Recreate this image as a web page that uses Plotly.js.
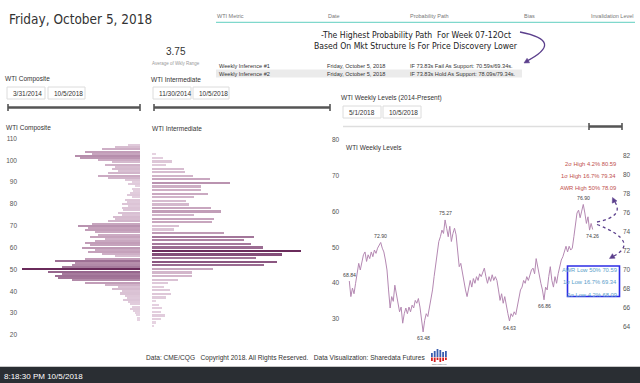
<!DOCTYPE html>
<html><head><meta charset="utf-8">
<script src="https://cdn.plot.ly/plotly-3.0.1.min.js"></script>
<style>html,body{margin:0;padding:0;background:#fff}#chart{width:640px;height:383px}</style>
</head><body><div id="chart"></div>
<script>
// ---------- DATA ----------
// WTI Composite: price level (USD) and frequency (weeks at level)
const compositePrices = [107,106,105,104,103,102,101,100,99,98,97,96,95,94,93,92,91,90,89,88,87,86,85,84,83,82,81,80,79,78,77,76,75,74,73,72,71,70,69,68,67,66,65,64,63,62,61,60,59,58,57,56,55,54,53,52,51,50,49,48,47,46,45,44,43,42,41,40,39,38,37,36,35,34,33,32,31,30,29,28,27];
const compositeFreq   = [12,25,38,55,48,65,60,42,28,35,25,28,22,32,42,32,15,8,12,5,8,7,10,13,8,15,13,18,12,18,17,22,18,27,25,32,48,62,52,55,45,42,50,35,45,55,50,58,45,52,38,25,55,85,65,68,78,118,92,78,85,82,68,55,35,22,28,18,20,15,13,17,12,10,8,10,7,5,4,3,3];
// WTI Intermediate: price level and frequency
const interPrices = [76,75,74,73,72,71,70,69,68,67,66,65,64,63,62,61,60,59,58,57,56,55,54,53,52,51,50,49,48,47,46,45,44,43,42,41,40,39,38,37,36,35,34,33,32,31,30,29,28];
const interFreq   = [4,11,20,14,32,33,41,58,78,49,49,56,42,34,37,59,69,42,62,60,27,22,72,102,92,99,111,149,130,104,125,112,61,40,40,26,16,12,18,19,14,4,7,10,9,13,9,4,2];
// WTI Weekly Levels (May 1 2018 - Oct 5 2018), sampled closes
const weeklyLevels = [68.84,67.2,68.1,67.5,68.6,69.6,70.7,70.0,71.05,71.6,71.9,70.9,71.6,71.2,71.9,71.4,72.1,71.75,72.3,72.6,72.90,72.3,71.9,71.05,70.0,67.9,66.0,67.2,66.7,68.4,67.4,66.8,65.6,66.1,64.4,65.4,66.0,65.4,66.1,65.6,66.3,66.0,66.8,66.5,67.0,66.1,64.4,63.48,64.7,65.4,65.1,66.0,66.8,67.9,69.3,70.7,72.1,73.0,73.5,74.2,73.85,75.27,74.4,73.5,74.6,73.0,73.85,74.4,73.7,72.3,70.35,70.7,69.6,68.9,67.9,67.2,67.9,68.9,68.2,69.1,68.6,69.3,68.9,69.6,69.3,69.8,70.2,69.3,68.6,69.3,68.8,69.5,68.9,69.3,68.9,67.9,66.8,67.5,66.5,67.2,66.1,65.4,64.63,65.4,65.1,65.6,65.3,66.1,67.2,67.9,68.2,68.9,68.6,69.3,68.9,69.6,70.0,70.2,69.6,71.2,70.35,69.1,68.6,67.9,66.86,68.2,67.9,69.3,70.35,68.9,68.2,69.3,68.6,69.6,70.35,71.05,71.4,72.1,72.5,71.9,72.5,72.1,72.3,73.5,74.6,76.0,76.3,75.5,76.2,76.90,76.0,74.9,75.6,74.2,74.9,74.26];
// labelled highs/lows on the weekly chart, and whether the label sits above (1) or below (-1)
const weeklyMarked = [68.84,72.90,75.27,63.48,64.63,66.86,76.90,74.26];
const weeklyMarkedSide = [1,1,1,-1,-1,-1,1,-1];
const compositeTicks = [20,30,40,50,60,70,80,90,100,110];
const interTicks = [30,40,50,60,70,80];
const weeklyTicks = [64,66,68,70,72,74,76,78,80,82];
const highLevels = ["2σ High 4.2% 80.59","1σ High 16.7% 79.34","AWR High 50% 78.09"];
const lowLevels  = ["AWR Low 50% 70.59","1σ Low 16.7% 69.34","2σ Low 4.2% 68.09"];
const tableHeader = ["WTI Metric","Date","Probability Path","Bias","Invalidation Level"];
const tableRows = [
  ["Weekly Inference #1","Friday, October 5, 2018","IF 73.83s Fail As Support: 70.59s/69.34s."],
  ["Weekly Inference #2","Friday, October 5, 2018","IF 73.83s Hold As Support: 78.09s/79.34s."]
];

// ---------- HELPERS ----------
const W=640,H=383;
const px=x=>x/W, py=y=>1-y/H;
const SANS="Liberation Sans, Arial, sans-serif";
const ann=[], shp=[];
function txt(x,y,text,size,color,anchor,family){
  ann.push({xref:'paper',yref:'paper',x:px(x),y:py(y),text:text,showarrow:false,
    xanchor:anchor||'left',yanchor:'middle',borderpad:0,
    font:{size:size,color:color||'#333',family:family||SANS}});
}
function rect(x0,y0,x1,y1,lc,fill,lw){
  shp.push({type:'rect',xref:'paper',yref:'paper',x0:px(x0),x1:px(x1),y0:py(y1),y1:py(y0),
    line:{color:lc||'rgba(0,0,0,0)',width:lw===undefined?1:lw},fillcolor:fill||'rgba(0,0,0,0)',layer:'below'});
}
function line(x0,y0,x1,y1,c,w,dash){
  shp.push({type:'line',xref:'paper',yref:'paper',x0:px(x0),x1:px(x1),y0:py(y0),y1:py(y1),
    line:{color:c,width:w,dash:dash||'solid'}});
}
function path(pts,c,w,dash,fill){
  let s='';
  pts.forEach(p=>{s+=p[0];for(let i=1;i<p.length;i+=2){s+=px(p[i]).toFixed(5)+','+py(p[i+1]).toFixed(5)+' ';}});
  shp.push({type:'path',xref:'paper',yref:'paper',path:s.trim(),
    line:{color:c,width:w,dash:dash||'solid'},fillcolor:fill||'rgba(0,0,0,0)'});
}
function head(tx,ty,fx,fy,c){
  const dx=tx-fx,dy=ty-fy,l=Math.hypot(dx,dy),ux=dx/l,uy=dy/l,L=5,Wd=2.6;
  const bx=tx-ux*L,by=ty-uy*L;
  path([['M',tx,ty],['L',bx-uy*Wd,by+ux*Wd],['L',bx+uy*Wd,by-ux*Wd],['Z']],c,0.5,'solid',c);
}
function slider(x0,x1,y){
  line(x0,y,x1,y,'#555',2.4);
  line(x0,y-3.5,x0,y+3.5,'#555',1.6);
  line(x1,y-3.5,x1,y+3.5,'#555',1.6);
}
function dateBox(x0,x1,y0,y1,t){
  rect(x0,y0,x1,y1,'#dcdcdc','#fff',1);
  txt(x0+5,(y0+y1)/2,t,6.5,'#333');
}

// ---------- STATIC TEXT & SHAPES ----------
txt(8,19.5,"Friday, October 5, 2018",13.5,'#333',"left","DejaVu Sans Condensed, Liberation Sans Narrow, Roboto");
const hdrX=[216,327,409,523,590];
tableHeader.forEach((t,i)=>txt(hdrX[i],15.7,t,5.5,'#777'));
line(216,22.3,635,22.3,'#7fd8cc',1.3);
txt(416,35,"-The Highest Probability Path  For Week 07-12Oct",8.6,'#222','center',"DejaVu Sans Condensed, Liberation Sans Narrow, sans-serif");
txt(416,46,"Based On Mkt Structure Is For Price Discovery Lower",8.6,'#222','center',"DejaVu Sans Condensed, Liberation Sans Narrow, sans-serif");
rect(216,69.5,522,77.5,null,'#ebebeb',0);
tableRows.forEach((r,i)=>{const y=66+i*7.6;txt(218,y,r[0],5.6,'#333');txt(326,y,r[1],5.6,'#333');txt(409,y,r[2],5.6,'#333');});
path([['M',520,32],['Q',566,41,526,61.5]],'#5b3f8c',1.3);
head(524,63,540,54,'#5b3f8c');

txt(176,51,"3.75",10,'#333','center');
txt(176,63,"Average of Wkly Range",4.5,'#999','center');

txt(4,79,"WTI Composite",6.5,'#333');
dateBox(7,45,87,99,"3/31/2014");
dateBox(48,85,87,99,"10/5/2018");
slider(8,140,107.5);
txt(150,79,"WTI Intermediate",6.5,'#333');
dateBox(153,191,87,99,"11/30/2014");
dateBox(193,229,87,99,"10/5/2018");
slider(154,330,107.5);

txt(340,98,"WTI Weekly Levels (2014-Present)",6.5,'#333');
dateBox(343,381,106,118,"5/1/2018");
dateBox(383,421,106,118,"10/5/2018");
line(343,126.5,620,126.5,'#dedede',1.5);
slider(589,622,126.5);

txt(5,128.5,"WTI Composite",6.5,'#333');
txt(151,128.5,"WTI Intermediate",6.5,'#333');
txt(345,147.5,"WTI Weekly Levels",6.5,'#333');

const hiY=[164,175.5,188];
highLevels.forEach((t,i)=>txt(617,hiY[i],t,5.8,'#c0504d','right'));
rect(567.5,266,619.5,296.5,'#2c2ce6',null,1.6);
const loY=[270,282,295];
lowLevels.forEach((t,i)=>txt(618,loY[i],t,5.8,'#5a9ec9','right'));

// dotted curved arrows
path([['M',597,222],['Q',626,216,613.5,200]],'#5b3f8c',1.3,'dot');
head(612.5,197.5,616,205,'#5b3f8c');
path([['M',597,224.5],['Q',642,242,612,257]],'#5b3f8c',1.3,'dot');
head(609.5,258.5,617,254,'#5b3f8c');

// footer
txt(145,357.5,"Data: CME/CQG   Copyright 2018. All Rights Reserved.   Data Visualization: Sharedata Futures",6.6,'#333');
const logoBlue=[353,351,349,350,352,351];
logoBlue.forEach((t,i)=>{rect(431+i*2.8,t,432.8+i*2.8,357,null,'#3a5fb0',0);});
const logoRed=[361,362,360,362,361,360];
logoRed.forEach((b,i)=>{rect(431+i*2.8,357.5,432.8+i*2.8,b,null,'#d42020',0);});
txt(439.5,363.8,"sharedata.com",2.2,'#555','center');
line(0,366.5,640,366.5,'#c8c8c8',1);
rect(0,367,640,383,null,'#2a2e33',0);
txt(3,376,"8:18:30 PM 10/5/2018",8,'#ffffff');

// ---------- TRACES ----------
const scale=[[0,'#e8d6e4'],[0.45,'#c4a0ba'],[0.8,'#93628a'],[1,'#6a2b5b']];
const traces=[];
traces.push({type:'bar',orientation:'h',y:compositePrices,x:compositeFreq,xaxis:'x',yaxis:'y',width:0.92,
  marker:{color:compositeFreq,colorscale:scale,cmin:0,cmax:Math.max(...compositeFreq),line:{width:0}},hoverinfo:'skip'});
traces.push({type:'bar',orientation:'h',y:interPrices,x:interFreq,xaxis:'x2',yaxis:'y2',width:0.62,
  marker:{color:interFreq,colorscale:scale,cmin:0,cmax:Math.max(...interFreq),line:{width:0}},hoverinfo:'skip'});
traces.push({type:'scatter',mode:'lines',y:weeklyLevels,xaxis:'x3',yaxis:'y3',
  line:{color:'#b488b2',width:1},hoverinfo:'skip'});

const N=weeklyLevels.length;
const ppi=(592.7-349.3)/(N-1);
weeklyMarked.forEach((v,k)=>{
  const i=weeklyLevels.indexOf(v);
  ann.push({xref:'x3',yref:'y3',x:i,y:v,text:v.toFixed(2),showarrow:false,
    yshift:weeklyMarkedSide[k]*6.5,xanchor:'center',yanchor:'middle',font:{size:5.2,color:'#444',family:SANS}});
});

const tf={size:6.5,color:'#555',family:SANS};
const hidden={showgrid:false,zeroline:false,showticklabels:false,showline:false,ticks:''};
const layout={
  width:W,height:H,margin:{l:0,r:0,t:0,b:0},paper_bgcolor:'#fff',plot_bgcolor:'rgba(0,0,0,0)',
  showlegend:false,bargap:0,
  xaxis:Object.assign({domain:[px(18),px(140)],range:[122,0],anchor:'y'},hidden),
  yaxis:{domain:[py(335),py(138.4)],range:[20,110],tickvals:compositeTicks,ticks:'',showgrid:false,zeroline:false,showline:false,tickfont:tf,anchor:'x',side:'left'},
  xaxis2:Object.assign({domain:[px(151.5),px(331)],range:[0,179.5],anchor:'y2'},hidden),
  yaxis2:{domain:[py(336.9),py(132.84)],range:[25,82],tickvals:interTicks,ticks:'',showgrid:false,zeroline:false,showline:false,tickfont:tf,anchor:'x2',side:'right'},
  xaxis3:Object.assign({domain:[px(347),px(622)],range:[-(349.3-347)/ppi,(N-1)+(622-592.7)/ppi],anchor:'y3'},hidden),
  yaxis3:{domain:[py(336.5),py(146.5)],range:[63,83],tickvals:weeklyTicks,ticks:'',showgrid:false,zeroline:false,showline:false,tickfont:tf,anchor:'x3',side:'right'},
  annotations:ann,shapes:shp
};
Plotly.newPlot('chart',traces,layout,{staticPlot:true,displayModeBar:false});
</script></body></html>
